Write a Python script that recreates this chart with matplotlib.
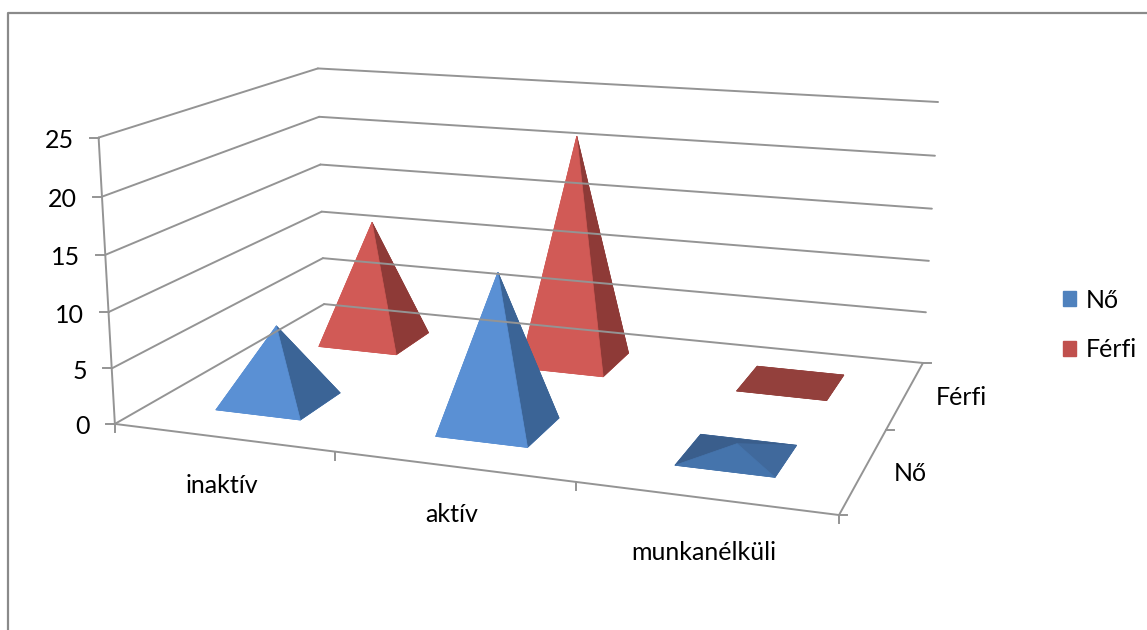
import numpy as np
import matplotlib
matplotlib.use("Agg")
import matplotlib.pyplot as plt
from matplotlib.patches import Patch

plt.rcParams['font.family'] = ['Lato', 'DejaVu Sans']

categories = ['inaktív', 'aktív', 'munkanélküli']
series_names = ['Nő', 'Férfi']
no_values = [7, 13.7, 1]
ferfi_values = [11.9, 21.7, 0]
z_ticks = [0, 5, 10, 15, 20, 25]

# (front, right, back, left) face colours, steep pyramids vs nearly flat ones
BLUE = ['#5A90D4', '#3B6496', '#3B6496', '#5A90D4']
RED = ['#D15A56', '#8E3A37', '#8E3A37', '#D15A56']
BLUE_FLAT = ['#4574AC', '#40699C', '#3A5E8C', '#3A5E8C']
RED_FLAT = ['#93403C', '#93403C', '#93403C', '#93403C']
LEGEND_COLORS = ['#4F81BD', '#C0504D']
GRID = '#949494'
FONT = 18

HALF_X = 0.197
HALF_Y = 0.195
CAT_LABEL_DY = [48, 48, 54]


def fit_camera(world, pix):
    # plain DLT, chart box corners -> pixels
    rows = []
    for (x, y, z), (u, v) in zip(world, pix):
        rows.append([x, y, z, 1, 0, 0, 0, 0, -u*x, -u*y, -u*z, -u])
        rows.append([0, 0, 0, 0, x, y, z, 1, -v*x, -v*y, -v*z, -v])
    _, _, vt = np.linalg.svd(np.array(rows, dtype=float))
    return vt[-1].reshape(3, 4)


box_world = [(0, 0, 0), (3, 0, 0), (3, 2, 0), (0, 2, 0), (0, 0, 25), (0, 2, 25), (3, 2, 25)]
box_pix = [(115, 424), (839, 515), (923, 363), (324, 304), (98.5, 137.5), (318, 68.5), (938, 102)]
CAM = fit_camera(box_world, box_pix)


def proj(x, y, z):
    p = CAM @ np.array([x, y, z, 1.0])
    return p[0] / p[2], p[1] / p[2]


def line3(ax, a, b, **kw):
    pa, pb = proj(*a), proj(*b)
    ax.plot([pa[0], pb[0]], [pa[1], pb[1]], color=GRID, lw=1.4, solid_capstyle='round', **kw)


def pyramid(ax, cx, cy, value, colors):
    corners = [(cx-HALF_X, cy-HALF_Y), (cx+HALF_X, cy-HALF_Y), (cx+HALF_X, cy+HALF_Y), (cx-HALF_X, cy+HALF_Y)]
    base = [proj(x, y, 0) for x, y in corners]
    apex = proj(cx, cy, value)
    ax.fill(*zip(*base), color=colors[0], lw=0.5)
    # back and left first, then right, then front
    for i, j, c in [(2, 3, colors[2]), (3, 0, colors[3]), (1, 2, colors[1]), (0, 1, colors[0])]:
        ax.fill(*zip(base[i], base[j], apex), color=c, lw=0.5)


fig = plt.figure(figsize=(11.47, 6.3), dpi=100)
ax = fig.add_axes([0, 0, 1, 1])
ax.set_xlim(0, 1147)
ax.set_ylim(630, 0)
ax.axis('off')

# chart frame, only left and top survive the crop
ax.plot([8, 8, 1147], [630, 13, 13], color='#8A8A8A', lw=1.6)

n_cat = len(categories)
n_ser = len(series_names)

for z in z_ticks:
    line3(ax, (0, 0, z), (0, n_ser, z))
    line3(ax, (0, n_ser, z), (n_cat, n_ser, z))
    u, v = proj(0, 0, z)
    ax.plot([u-9, u], [v, v], color=GRID, lw=1.4)
    ax.text(u-25, v+3, str(z), ha='right', va='center', fontsize=FONT, color='black')

line3(ax, (0, 0, 0), (0, 0, z_ticks[-1]))
line3(ax, (0, 0, 0), (n_cat, 0, 0))
line3(ax, (n_cat, 0, 0), (n_cat, n_ser, 0))

for i in range(n_cat + 1):
    u, v = proj(i, 0, 0)
    ax.plot([u, u], [v, v+8], color=GRID, lw=1.4)
for i in range(n_ser + 1):
    u, v = proj(n_cat, i, 0)
    ax.plot([u, u+8], [v, v], color=GRID, lw=1.4)

for i, name in enumerate(categories):
    u, v = proj(i + 0.5, 0, 0)
    ax.text(u-1, v+CAT_LABEL_DY[i], name, ha='center', va='center', fontsize=FONT, color='black')
for i, name in enumerate(series_names):
    u, v = proj(n_cat, i + 0.5, 0)
    ax.text(u+30, v+3, name, ha='left', va='center', fontsize=FONT, color='black')

# back row first so the front row covers it
for i in range(n_cat):
    val = ferfi_values[i]
    pyramid(ax, i + 0.5, 1.5, val, RED if val > 1 else RED_FLAT)
for i in range(n_cat):
    val = no_values[i]
    pyramid(ax, i + 0.5, 0.5, val, BLUE if val > 1 else BLUE_FLAT)

handles = [Patch(color=c, label=s) for c, s in zip(LEGEND_COLORS, series_names)]
ax.legend(handles=handles, loc='center left', bbox_to_anchor=(1040/1147, 1-325/630), frameon=False,
          fontsize=FONT, handlelength=0.55, handleheight=0.55, handletextpad=0.36, labelspacing=1.07)

fig.savefig('out.png', dpi=100)
